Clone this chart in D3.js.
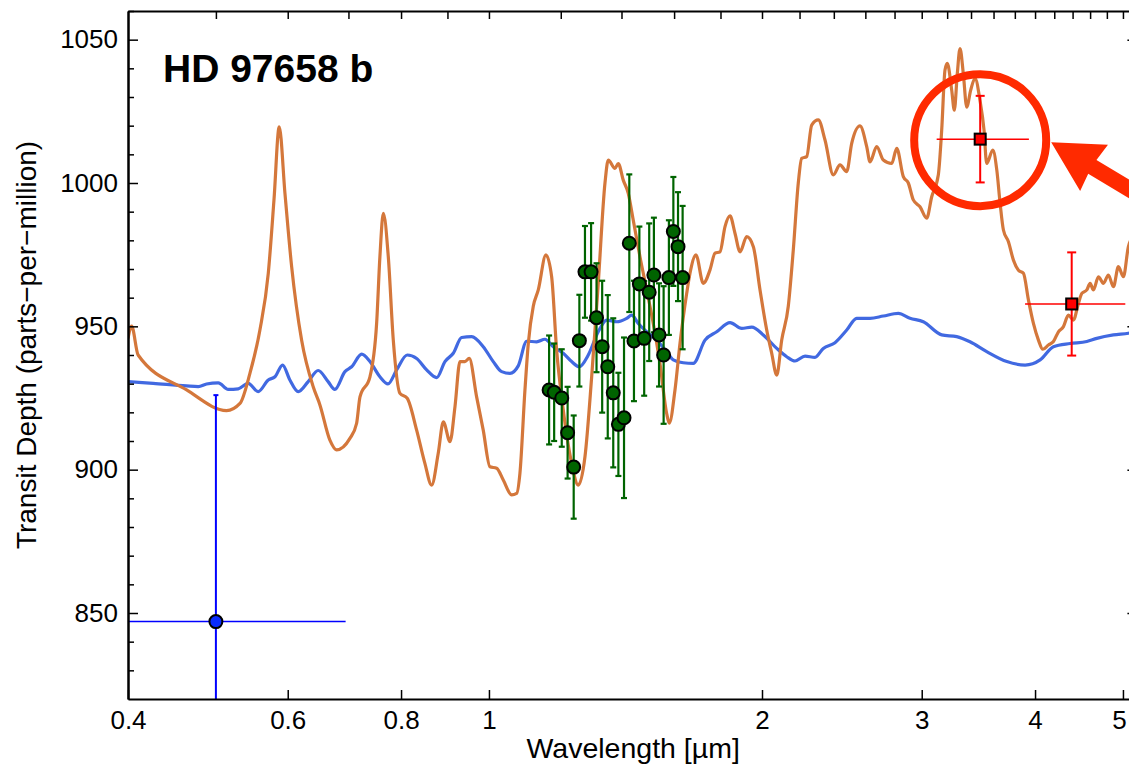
<!DOCTYPE html>
<html>
<head>
<meta charset="utf-8">
<script src="https://cdn.jsdelivr.net/npm/d3@7"></script>
<style>
  body { margin: 0; background: #fff; }
  svg { display: block; font-family: "Liberation Sans", Arial, Helvetica, sans-serif; }
</style>
</head>
<body>
<div id="chart"></div>
<script>
// model spectra (wavelength in micron, transit depth in ppm)
const orangeWl = [0.400,0.4037,0.4104,0.4642,0.5137,0.5315,0.5451,0.5591,0.5711,0.5794,
  0.5872,0.5958,0.6060,0.6215,0.6401,0.6511,0.6678,0.6793,0.7026,0.7147,
  0.7208,0.7393,0.7519,0.7582,0.7648,0.7745,0.7844,0.7978,0.8126,0.8323,
  0.8499,0.8645,0.8792,0.8906,0.9058,0.9174,0.9291,0.9408,0.9512,0.9692,
  0.9856,1.0025,1.0197,1.0370,1.0593,1.0728,1.0818,1.0957,1.1050,1.1191,
  1.1334,1.1556,1.1725,1.1875,1.2076,1.2336,1.2544,1.2760,1.2979,1.3198,
  1.3425,1.3538,1.3770,1.3886,1.4063,1.4243,1.4425,1.4672,1.4924,1.5176,
  1.5436,1.5701,1.5805,1.6036,1.6241,1.6520,1.6659,1.6914,1.7231,1.7527,
  1.7751,1.7978,1.8208,1.8441,1.8677,1.8915,1.9240,1.9565,1.9900,2.0241,
  2.0500,2.0762,2.1027,2.1380,2.1653,2.1930,2.2120,2.2403,2.2689,2.3073,
  2.3469,2.3969,2.4380,2.4798,2.5115,2.5650,2.6090,2.6310,2.6761,2.7214,
  2.7800,2.8155,2.8630,2.8996,2.9366,2.9870,3.0382,3.0770,3.1290,3.1561,
  3.1826,3.2012,3.2372,3.2587,3.2836,3.3062,3.3340,3.3629,3.3972,3.4345,
  3.4783,3.5139,3.5380,3.5933,3.6300,3.6606,3.6914,3.7386,3.7864,3.8348,
  3.8838,3.9334,3.9836,4.0345,4.0798,4.1382,4.1911,4.2446,4.2988,4.3537,
  4.4093,4.4656,4.5043,4.5618,4.6002,4.6389,4.6981,4.7581,4.8188,4.8803,
  4.9426,5.0057,5.0696,5.15];
const orangeDepth = [945.8,950.1,940.0,927.8,920.6,923.1,933.6,948.7,968.5,994.0,
  1019.6,996.4,970.8,945.2,928.9,922.6,910.3,906.9,910.9,916.2,
  925.4,932.4,951.0,974.3,989.4,974.3,945.2,926.6,924.9,913.8,
  902.2,894.6,905.7,916.7,909.8,922.0,937.7,937.7,938.8,925.4,
  913.8,901.0,900.5,896.4,891.2,891.7,898.7,927.8,944.0,957.0,
  962.7,974.9,967.3,941.7,920.8,902.2,894.6,904.5,932.4,965.0,
  1000.0,1008.0,1005.1,1006.8,1001.0,996.4,987.0,974.3,962.7,951.0,
  937.0,919.6,916.2,927.8,944.0,961.5,968.5,974.9,965.0,969.7,
  975.5,976.0,984.8,988.5,982.4,976.0,981.3,977.8,962.7,948.7,
  940.6,933.0,945.2,957.0,976.6,1000.0,1008.6,1009.2,1020.2,1022.0,
  1015.0,1002.8,1006.3,1004.0,1013.8,1019.9,1012.7,1007.4,1012.7,1008.0,
  1006.8,1012.1,1002.2,1000.0,994.1,991.7,987.7,995.2,1002.8,1018.5,
  1039.4,1041.7,1032.4,1025.4,1038.2,1046.9,1038.2,1026.5,1032.4,1036.5,
  1028.8,1018.5,1006.8,1011.5,1004.5,992.9,983.6,979.5,973.1,969.6,
  968.5,959.2,951.0,945.2,942.0,943.5,944.7,948.1,949.9,953.9,
  952.2,958.0,961.5,962.7,965.0,962.7,967.3,965.0,967.9,963.8,
  970.8,967.3,977.8,982.0];

const blueWl = [0.400,0.4264,0.4642,0.4781,0.4883,0.5030,0.5159,0.5292,0.5428,0.5566,
  0.5711,0.5809,0.5922,0.6033,0.6162,0.6320,0.6482,0.6648,0.6762,0.6938,
  0.7057,0.7239,0.7393,0.7582,0.7739,0.7911,0.8126,0.8323,0.8537,0.8757,
  0.8943,0.9134,0.9330,0.9570,0.9856,1.0110,1.0328,1.0548,1.0772,1.1005,
  1.1288,1.1527,1.1773,1.2076,1.2336,1.2576,1.2868,1.3198,1.3483,1.3830,
  1.4186,1.4367,1.4609,1.4924,1.5307,1.5701,1.5967,1.6378,1.6799,1.7306,
  1.7828,1.8441,1.8997,1.9486,2.0066,2.0762,2.1294,2.1750,2.2308,2.2880,
  2.3368,2.4072,2.4798,2.5433,2.6310,2.7214,2.8270,2.9120,3.0121,3.1561,
  3.2786,3.3912,3.5380,3.7235,3.9006,4.0520,4.1911,4.3725,4.5618,4.6790,
  4.8803,5.0696,5.15];
const blueDepth = [930.7,930.1,929.2,929.0,929.9,930.3,928.0,928.2,930.1,927.2,
  931.3,932.4,936.5,931.3,927.2,930.7,934.6,930.7,928.0,934.2,
  935.9,940.3,937.7,932.4,929.9,934.8,940.0,938.8,934.8,932.1,
  937.7,940.6,946.1,946.4,942.9,937.7,934.2,933.6,936.2,944.8,
  944.6,945.5,942.9,940.6,937.7,935.9,940.0,948.1,952.2,951.6,
  952.8,953.9,951.0,948.1,945.2,941.2,938.3,937.3,937.1,945.2,
  948.1,951.3,949.3,949.7,947.0,942.3,939.4,937.9,939.6,939.2,
  942.3,944.3,948.7,952.8,952.8,953.6,954.5,952.8,951.6,947.0,
  946.4,944.6,941.2,937.7,936.5,938.3,942.9,944.0,944.7,945.8,
  947.0,947.6,948.0];

// HST/WFC3 points
const wfc3Wl = [1.165,1.180,1.203,1.221,1.240,1.258,1.276,1.296,1.314,1.333,1.352,1.371,1.389,
  1.409,1.428,1.445,1.465,1.483,1.502,1.520,1.540,1.558,1.579,1.597,1.616,1.635];
const wfc3Depth = [927.8,927.0,925.0,912.9,900.9,945.0,969.0,969.0,953.0,942.9,935.9,926.8,915.8,
  918.1,979.0,944.9,964.8,945.8,961.9,967.9,947.0,940.0,967.0,983.1,977.8,967.0];
const wfc3Err = [19,17,17,16,18,16,16,17,19,23,25,26,18,28,24,21,20,20,24,20,18,24,20,19,19,25];

// MOST optical point
const mostWl = [0.5];
const mostDepth = [847];
const mostErr = [79];
const mostWlLo = [0.305];
const mostWlHi = [0.695];

// Spitzer points
const spitzerWl = [3.48, 4.39];
const spitzerDepth = [1015.3, 957.8];
const spitzerErr = [15.1, 18];
const spitzerWlLo = [3.116, 3.90];
const spitzerWlHi = [3.938, 5.03];

const xTicks = [0.4, 0.6, 0.8, 1, 2, 3, 4, 5];
const xTopTicks = [0.5,0.6,0.7,0.8,0.9,1,1.2,1.4,1.6,1.8,2,2.2,2.4,2.6,2.8,3,3.2,3.4,3.6,3.8,4,4.2,4.4,4.6,4.8,5];
const yTicks = [850, 900, 950, 1000, 1050];
const yMinorTicks = [830,840,860,870,880,890,910,920,930,940,960,970,980,990,1010,1020,1030,1040,1060];

const W = 1129, H = 764;
const plotLeft = 128, plotRight = 1138.4, plotTop = 11, plotBottom = 699;

const svg = d3.select("#chart").append("svg")
  .attr("width", W)
  .attr("height", H);

const x = d3.scaleLog().domain([0.4, 5.2]).range([plotLeft, plotRight]);
const y = d3.scaleLinear().domain([820, 1060]).range([plotBottom, plotTop]);

svg.append("clipPath").attr("id", "plotclip")
  .append("rect")
  .attr("x", plotLeft).attr("y", plotTop)
  .attr("width", plotRight - plotLeft).attr("height", plotBottom - plotTop);

const plot = svg.append("g").attr("clip-path", "url(#plotclip)");

const line = d3.line()
  .x(d => x(d[0]))
  .y(d => y(d[1]))
  .curve(d3.curveMonotoneX);

// model curves
plot.append("path")
  .datum(blueWl.map((w, i) => [w, blueDepth[i]]))
  .attr("fill", "none")
  .attr("stroke", "#4169e1")
  .attr("stroke-width", 3.2)
  .attr("d", line);

plot.append("path")
  .datum(orangeWl.map((w, i) => [w, orangeDepth[i]]))
  .attr("fill", "none")
  .attr("stroke", "#d4773b")
  .attr("stroke-width", 3.2)
  .attr("d", line);

// error bars helper
function errorBars(g, wl, depth, err, color, width, cap) {
  wl.forEach((w, i) => {
    const cx = x(w);
    g.append("line")
      .attr("x1", cx).attr("x2", cx)
      .attr("y1", y(depth[i] - err[i])).attr("y2", y(depth[i] + err[i]))
      .attr("stroke", color).attr("stroke-width", width);
    [depth[i] - err[i], depth[i] + err[i]].forEach(v => {
      g.append("line")
        .attr("x1", cx - cap).attr("x2", cx + cap)
        .attr("y1", y(v)).attr("y2", y(v))
        .attr("stroke", color).attr("stroke-width", width);
    });
  });
}

// MOST point
mostWl.forEach((w, i) => {
  plot.append("line")
    .attr("x1", x(mostWlLo[i])).attr("x2", x(mostWlHi[i]))
    .attr("y1", y(mostDepth[i])).attr("y2", y(mostDepth[i]))
    .attr("stroke", "#0000ff").attr("stroke-width", 1.5);
});
errorBars(plot, mostWl, mostDepth, mostErr, "#0000ff", 2, 2.5);
plot.selectAll(".most")
  .data(mostWl)
  .enter().append("circle")
  .attr("cx", d => x(d))
  .attr("cy", (d, i) => y(mostDepth[i]))
  .attr("r", 6.5)
  .attr("fill", "#0a2cff")
  .attr("stroke", "#000")
  .attr("stroke-width", 2);

// WFC3 points
errorBars(plot, wfc3Wl, wfc3Depth, wfc3Err, "#006400", 2.2, 3);
plot.selectAll(".wfc3")
  .data(wfc3Wl)
  .enter().append("circle")
  .attr("cx", d => x(d))
  .attr("cy", (d, i) => y(wfc3Depth[i]))
  .attr("r", 6.5)
  .attr("fill", "#006400")
  .attr("stroke", "#000")
  .attr("stroke-width", 2);

// Spitzer points
spitzerWl.forEach((w, i) => {
  plot.append("line")
    .attr("x1", x(spitzerWlLo[i])).attr("x2", x(spitzerWlHi[i]))
    .attr("y1", y(spitzerDepth[i])).attr("y2", y(spitzerDepth[i]))
    .attr("stroke", "#ff0000").attr("stroke-width", 1.5);
});
errorBars(plot, spitzerWl, spitzerDepth, spitzerErr, "#ff0000", 2, 4.5);
plot.selectAll(".spitzer")
  .data(spitzerWl)
  .enter().append("rect")
  .attr("x", d => x(d) - 5.5)
  .attr("y", (d, i) => y(spitzerDepth[i]) - 5.5)
  .attr("width", 11)
  .attr("height", 11)
  .attr("fill", "#ff0000")
  .attr("stroke", "#000")
  .attr("stroke-width", 2);

// axes
const axisStyle = g => {
  g.select(".domain").attr("stroke", "#000").attr("stroke-width", 2);
  g.selectAll(".tick line").attr("stroke", "#000").attr("stroke-width", 1.5);
  g.selectAll(".tick text").attr("fill", "#000").attr("font-size", 26)
    .attr("font-family", "'Liberation Sans', Arial, sans-serif");
};

svg.append("g")
  .attr("transform", `translate(0,${plotBottom})`)
  .call(d3.axisBottom(x).tickValues(xTicks).tickFormat(d => String(d))
    .tickSizeInner(-9).tickSizeOuter(0).tickPadding(12))
  .call(axisStyle)
  .selectAll(".tick text")
  .attr("dx", d => d === 5 ? -4 : 0);

svg.append("g")
  .attr("transform", `translate(0,${plotTop})`)
  .call(d3.axisTop(x).tickValues(xTopTicks).tickFormat("")
    .tickSizeInner(-8).tickSizeOuter(0))
  .call(axisStyle);

svg.append("g")
  .attr("transform", `translate(${plotLeft},0)`)
  .call(d3.axisLeft(y).tickValues(yTicks).tickFormat(d => String(d))
    .tickSizeInner(-10).tickSizeOuter(0).tickPadding(10))
  .call(axisStyle);

svg.append("g")
  .attr("transform", `translate(${plotLeft},0)`)
  .call(d3.axisLeft(y).tickValues(yMinorTicks).tickFormat("")
    .tickSizeInner(-6).tickSizeOuter(0))
  .call(axisStyle);

svg.append("g")
  .attr("transform", `translate(${plotRight},0)`)
  .call(d3.axisRight(y).tickValues(yTicks).tickFormat("")
    .tickSizeInner(-11).tickSizeOuter(0))
  .call(axisStyle);

// labels
svg.append("text")
  .attr("x", (plotLeft + plotRight) / 2)
  .attr("y", 758)
  .attr("text-anchor", "middle")
  .attr("font-size", 28.5)
  .text("Wavelength [µm]");

svg.append("text")
  .attr("transform", "translate(36,345) rotate(-90)")
  .attr("text-anchor", "middle")
  .attr("font-size", 28)
  .text("Transit Depth (parts\u2212per\u2212million)");

svg.append("text")
  .attr("x", 163)
  .attr("y", 82)
  .attr("font-size", 39)
  .attr("font-weight", "bold")
  .text("HD 97658 b");

// annotation: circle around first Spitzer point with arrow
const annoColor = "#ff2a00";
const ax = x(spitzerWl[0]), ay = y(spitzerDepth[0]) + 1;
svg.append("circle")
  .attr("cx", ax).attr("cy", ay)
  .attr("r", 66)
  .attr("fill", "none")
  .attr("stroke", annoColor)
  .attr("stroke-width", 8);

svg.append("path")
  .attr("transform", `translate(${ax + 71},${ay + 2}) rotate(31)`)
  .attr("d", "M0,0 L50,-27 L48,-8 L220,-8 L220,8 L48,8 L50,27 Z")
  .attr("fill", annoColor);
</script>
</body>
</html>
